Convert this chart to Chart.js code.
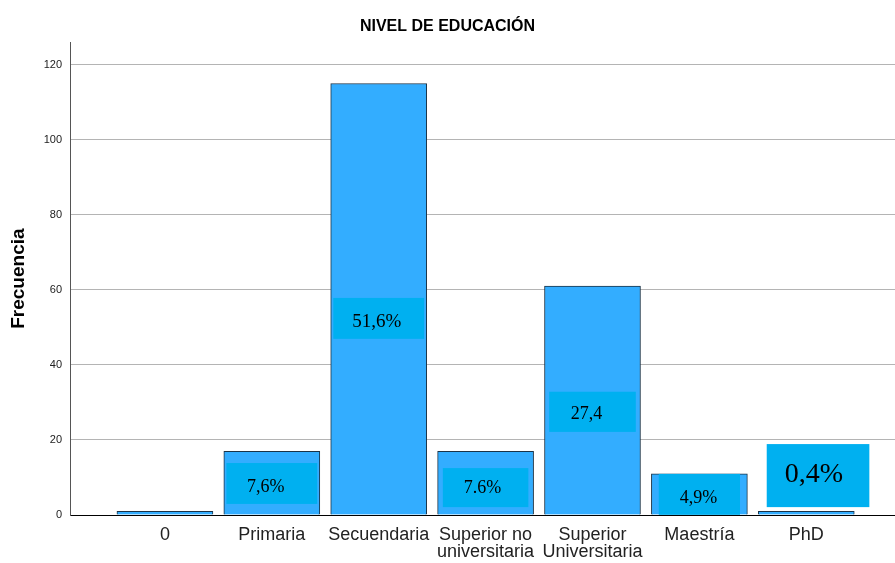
<!DOCTYPE html>
<html>
<head>
<meta charset="utf-8">
<script src="https://cdn.jsdelivr.net/npm/chart.js@4"></script>
<style>
  html, body { margin: 0; padding: 0; background: #fff; }
  #wrap { width: 895px; height: 563px; }
</style>
</head>
<body>
<div id="wrap"><canvas id="eduChart" width="895" height="563"></canvas></div>
<script>
// data
const categories = ['0', 'Primaria', 'Secuendaria', ['Superior no', 'universitaria'], ['Superior', 'Universitaria'], 'Maestría', 'PhD'];
const frequencies = [1, 17, 115, 17, 61, 11, 1];
const yTicks = [0, 20, 40, 60, 80, 100, 120];

// percentage boxes pasted over the bars (category index, value at centre)
const noteTexts = ['7,6%', '51,6%', '7.6%', '27,4', '4,9%', '0,4%'];
const noteCats = [1, 2, 3, 4, 5, 6.11];
const noteValues = [8.4, 52.4, 7.3, 27.5, 5.5, 10.5];

// box look, kept apart from the data
const noteBoxes = [
    { w: 0.85, h: 10.9, size: 18, dx: -6, dy: 3 },
    { w: 0.85, h: 10.9, size: 19, dx: -2, dy: 3 },
    { w: 0.80, h: 10.4, size: 18, dx: -3, dy: 0 },
    { w: 0.81, h: 10.7, size: 18, dx: -6, dy: 1 },
    { w: 0.76, h: 10.9, size: 18, dx: -1, dy: 3 },
    { w: 0.96, h: 16.8, size: 28, dx: -4, dy: -2 },
];

const notesPlugin = {
    id: 'notes',
    afterDatasetsDraw(chart) {
        const { ctx, scales: { x, y } } = chart;
        ctx.save();
        noteTexts.forEach((txt, i) => {
            const b = noteBoxes[i];
            const cx = x.getPixelForValue(noteCats[i]);
            const cy = y.getPixelForValue(noteValues[i]);
            const w = x.getPixelForValue(b.w) - x.getPixelForValue(0);
            const h = y.getPixelForValue(0) - y.getPixelForValue(b.h);
            ctx.fillStyle = '#00b0f0';
            ctx.fillRect(cx - w / 2, cy - h / 2, w, h);
            ctx.fillStyle = '#000';
            ctx.font = b.size + 'px "Liberation Serif", "Times New Roman", serif';
            ctx.textAlign = 'center';
            ctx.textBaseline = 'middle';
            ctx.fillText(txt, cx + b.dx, cy + 1 + b.dy);
        });
        ctx.restore();
    }
};

new Chart(document.getElementById('eduChart'), {
    type: 'bar',
    data: {
        datasets: [{
            data: frequencies.map((v, i) => ({ x: i, y: v })),
            backgroundColor: '#33adff',
            borderColor: '#1b3347',
            borderWidth: 1,
            barThickness: 96,
        }]
    },
    options: {
        responsive: false,
        animation: false,
        layout: { padding: 0 },
        plugins: {
            legend: { display: false },
            tooltip: { enabled: false },
            title: {
                display: true,
                text: 'NIVEL DE EDUCACIÓN',
                color: '#000',
                font: { family: '"Liberation Sans", Arial, sans-serif', size: 16, weight: 'bold' },
                padding: { top: 17, bottom: 6 },
            },
        },
        scales: {
            x: {
                type: 'linear',
                min: -0.888,
                max: 6.83,
                offset: false,
                afterBuildTicks: (s) => { s.ticks = categories.map((c, i) => ({ value: i })); },
                afterFit: (s) => { s.height = 48; },
                ticks: {
                    callback: (v) => categories[v],
                    color: '#222',
                    font: { family: '"Liberation Sans", Arial, sans-serif', size: 18, lineHeight: 0.95 },
                    padding: 3,
                    maxRotation: 0,
                    autoSkip: false,
                },
                grid: { display: false },
                border: { display: true, color: '#000', width: 1 },
            },
            y: {
                min: 0,
                max: 126,
                afterBuildTicks: (s) => { s.ticks = yTicks.map(v => ({ value: v })); },
                afterFit: (s) => { s.width = 70; },
                ticks: {
                    color: '#222',
                    font: { family: '"Liberation Sans", Arial, sans-serif', size: 11 },
                    padding: 8,
                },
                grid: {
                    drawTicks: false,
                    color: (c) => c.tick && c.tick.value === 0 ? 'rgba(0,0,0,0)' : '#b4b4b4',
                },
                border: { display: true, color: '#555', width: 1 },
                title: {
                    display: true,
                    text: 'Frecuencia',
                    color: '#000',
                    font: { family: '"Liberation Sans", Arial, sans-serif', size: 19, weight: 'bold' },
                    padding: { top: 7, bottom: 0 },
                },
            },
        },
    },
    plugins: [notesPlugin],
});
</script>
</body>
</html>
